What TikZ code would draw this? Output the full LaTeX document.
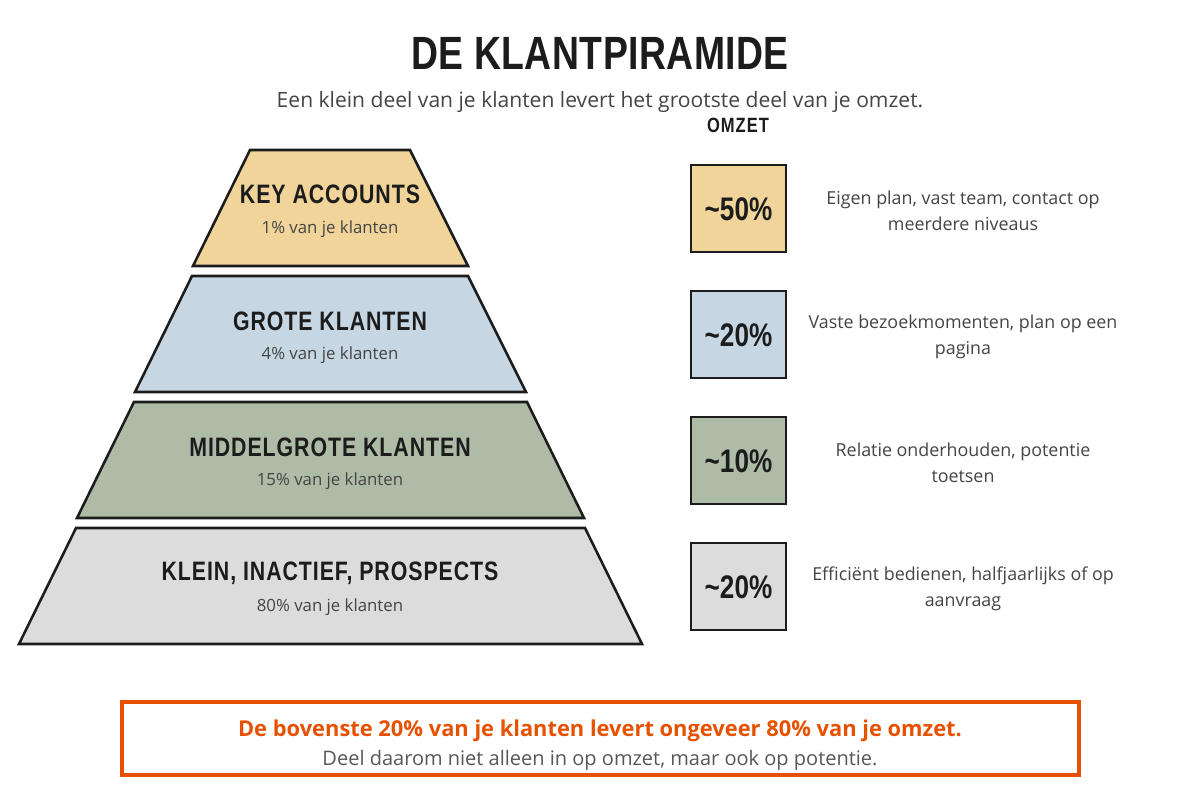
\documentclass[tikz,border=0pt]{standalone}
\usepackage{fontspec}
\setmainfont{Open Sans}
\newfontfamily\condf[FakeStretch=0.80]{Liberation Sans}
\newfontfamily\condls[FakeStretch=0.80,LetterSpace=5]{Liberation Sans}
\newfontfamily\condlm[FakeStretch=0.80,LetterSpace=3.5]{Liberation Sans}
\newfontfamily\condlt[FakeStretch=0.80,LetterSpace=1]{Liberation Sans}
\usetikzlibrary{calc}
\definecolor{ctxt}{HTML}{1C1C1C}
\definecolor{cgray}{HTML}{444444}
\definecolor{corange}{HTML}{E65100}
\definecolor{cgold}{HTML}{F0D49A}
\definecolor{cblue}{HTML}{C6D6E2}
\definecolor{cgreen}{HTML}{AEBBA6}
\definecolor{clight}{HTML}{DCDCDC}
\begin{document}
\begin{tikzpicture}[x=0.75pt,y=-0.75pt,
  trap/.style={draw=ctxt,line width=1.9pt,line join=miter},
  pbox/.style={draw=ctxt,line width=1.5pt},
  ttitle/.style={font=\condlm\bfseries\fontsize{20}{24}\selectfont,text=ctxt},
  tsub/.style={font=\fontsize{12.6}{15}\selectfont,text=cgray},
  pct/.style={font=\condf\bfseries\fontsize{24.5}{28}\selectfont,text=ctxt},
  desc/.style={font=\fontsize{13.4}{19.5}\selectfont,text=cgray,align=center}]
\useasboundingbox (0,0) rectangle (1200,800);
\node[font=\condlt\bfseries\fontsize{35}{40}\selectfont,text=ctxt] (title) at (600,53) {DE KLANTPIRAMIDE};
\node[font=\fontsize{15.8}{18}\selectfont,text=cgray] (sub) at (600,102) {Een klein deel van je klanten levert het grootste deel van je omzet.};
\node[font=\condls\bfseries\fontsize{15.5}{17}\selectfont,text=ctxt] (omzet) at (738,125) {OMZET};
% pyramid layers
\draw[trap,fill=cgold] (250,150) -- (410,150) -- (468,266) -- (193,266) -- cycle;
\draw[trap,fill=cblue] (192,276) -- (468,276) -- (526,392) -- (135,392) -- cycle;
\draw[trap,fill=cgreen] (134,402) -- (527,402) -- (584,518) -- (77,518) -- cycle;
\draw[trap,fill=clight] (76,528) -- (585,528) -- (642,644) -- (19,644) -- cycle;
\node[ttitle] (t1) at (330,194) {KEY ACCOUNTS};
\node[tsub] (s1) at (330,229) {1\% van je klanten};
\node[ttitle] (t2) at (330,321) {GROTE KLANTEN};
\node[tsub] (s2) at (330,355) {4\% van je klanten};
\node[ttitle] (t3) at (330,447) {MIDDELGROTE KLANTEN};
\node[tsub] (s3) at (330,481) {15\% van je klanten};
\node[ttitle] (t4) at (330,573) {KLEIN, INACTIEF, PROSPECTS};
\node[tsub] (s4) at (330,607) {80\% van je klanten};
% percentage boxes
\draw[pbox,fill=cgold] (691,165) rectangle (786,252);
\draw[pbox,fill=cblue] (691,291) rectangle (786,378);
\draw[pbox,fill=cgreen] (691,417) rectangle (786,504);
\draw[pbox,fill=clight] (691,543) rectangle (786,630);
\node[pct] (p1) at (738.5,209) {\char`\~50\%};
\node[pct] (p2) at (738.5,335) {\char`\~20\%};
\node[pct] (p3) at (738.5,461) {\char`\~10\%};
\node[pct] (p4) at (738.5,587) {\char`\~20\%};
\node[desc] (d1) at (963,211) {Eigen plan, vast team, contact op\\meerdere niveaus};
\node[desc] (d2) at (963,337) {Vaste bezoekmomenten, plan op een\\pagina};
\node[desc] (d3) at (963,463) {Relatie onderhouden, potentie\\toetsen};
\node[desc] (d4) at (963,589) {Efficiënt bedienen, halfjaarlijks of op\\aanvraag};
% bottom box
\draw[draw=corange,line width=3pt] (122,702) rectangle (1079,775);
\node[font=\bfseries\fontsize{16.4}{19}\selectfont,text=corange] (b1) at (600,731) {De bovenste 20\% van je klanten levert ongeveer 80\% van je omzet.};
\node[font=\fontsize{15}{18}\selectfont,text=cgray!90!white] (b2) at (600,760) {Deel daarom niet alleen in op omzet, maar ook op potentie.};
\end{tikzpicture}
\end{document}
